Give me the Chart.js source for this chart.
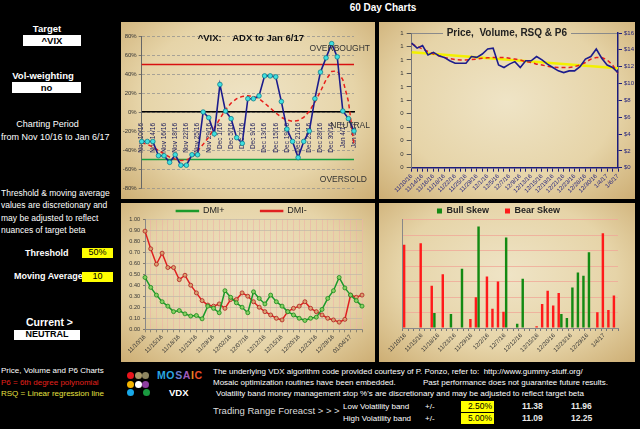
<!DOCTYPE html>
<html>
<head>
<meta charset="utf-8">
<title>60 Day Charts</title>
<script src="https://cdn.jsdelivr.net/npm/chart.js@4.4.1/dist/chart.umd.min.js"></script>
<style>
  html, body { margin: 0; padding: 0; background: #000; }
  body { position: relative; width: 640px; height: 429px; overflow: hidden; font-family: Arial, "Liberation Sans", sans-serif; color: #fff; }
  .t { position: absolute; white-space: nowrap; }
  .b { font-weight: bold; }
  .panel { position: absolute; background: radial-gradient(ellipse at 50% 45%, #efe4c6 0%, #e6d4a8 60%, #cdae74 100%); }
  .box { position: absolute; background: #fff; color: #000; font-weight: bold; text-align: center; }
  .ybox { position: absolute; background: #ffff00; color: #000; }
  .dot { position: absolute; width: 7px; height: 7px; border-radius: 50%; }
</style>
</head>
<body>

<div class="t b" style="left:336px;top:2px;width:94px;text-align:center;font-size:10px;line-height:12px">60 Day Charts</div>

<!-- left column -->
<div class="t b" style="left:17px;top:23px;width:60px;text-align:center;font-size:9.5px;line-height:12px">Target</div>
<div class="box" style="left:23px;top:35px;width:58px;height:11px;font-size:9.5px;line-height:11px">^VIX</div>
<div class="t b" style="left:3px;top:70px;width:80px;text-align:center;font-size:9.5px;line-height:12px">Vol-weighting</div>
<div class="box" style="left:12px;top:82px;width:69px;height:11px;font-size:9.5px;line-height:11px">no</div>
<div class="t" style="left:0;top:118px;width:95px;text-align:center;font-size:9px;line-height:12px">Charting Period</div>
<div class="t" style="left:1px;top:131px;font-size:9px;line-height:12px">from Nov 10/16 to Jan 6/17</div>
<div class="t" style="left:1px;top:187px;font-size:8.5px;line-height:12.3px">Threshold &amp; moving average<br>values are discretionary and<br>may be adjusted to reflect<br>nuances of target beta</div>
<div class="t b" style="left:25px;top:247px;font-size:9px;line-height:12px">Threshold</div>
<div class="ybox" style="left:82px;top:248px;width:31px;height:9.5px;font-size:9px;line-height:9.5px;text-align:center">50%</div>
<div class="t b" style="left:14px;top:270px;font-size:9px;line-height:12px">Moving Average</div>
<div class="ybox" style="left:82px;top:272px;width:31px;height:9.5px;font-size:9px;line-height:9.5px;text-align:center">10</div>
<div class="t b" style="left:26px;top:316px;font-size:10.5px;line-height:13px">Current &gt;</div>
<div class="box" style="left:14px;top:330px;width:66px;height:9.5px;font-size:9px;line-height:9.5px">NEUTRAL</div>
<div class="t" style="left:1px;top:366px;font-size:8px;line-height:10px">Price, Volume and P6 Charts</div>
<div class="t" style="left:1px;top:378px;font-size:8px;line-height:10px;color:#e3201c">P6 = 6th degree polynomial</div>
<div class="t" style="left:1px;top:389px;font-size:8px;line-height:10px;color:#e6e040">RSQ = Linear regression line</div>

<!-- chart panels -->
<div class="panel" style="left:121px;top:22px;width:254px;height:177px"><canvas id="adxChart"></canvas></div>
<div class="panel" style="left:379px;top:22px;width:256px;height:177px"><canvas id="priceChart"></canvas></div>
<div class="panel" style="left:121px;top:203px;width:254px;height:159px"><canvas id="dmiChart"></canvas></div>
<div class="panel" style="left:379px;top:203px;width:256px;height:159px"><canvas id="skewChart"></canvas></div>

<!-- mosaic logo -->
<div class="dot" style="left:127px;top:372px;background:#e8141c"></div>
<div class="dot" style="left:134.5px;top:372px;background:#a89868"></div>
<div class="dot" style="left:142px;top:372px;background:#8c8460"></div>
<div class="dot" style="left:127px;top:380.5px;background:#f4b400"></div>
<div class="dot" style="left:134.5px;top:380.5px;background:#ffffff"></div>
<div class="dot" style="left:142px;top:380.5px;background:#8e3fa0"></div>
<div class="dot" style="left:127px;top:389px;background:#18a8e8"></div>
<div class="dot" style="left:142.5px;top:389px;background:#1a9a40"></div>
<div class="t b" style="left:157px;top:369px;font-size:10.5px;line-height:13px;letter-spacing:0.6px"><span style="color:#2aa8e0">M</span><span style="color:#2aa8e0">O</span><span style="color:#6a7fd0">S</span><span style="color:#a05ab8">A</span><span style="color:#e88a20">I</span><span style="color:#e8502a">C</span></div>
<div class="t b" style="left:169px;top:387px;font-size:9.5px;line-height:12px">VDX</div>

<!-- bottom notes -->
<div class="t" style="left:213px;top:366px;font-size:8px;line-height:11px">The underlying VDX algorithm code provided courtesy of P. Ponzo, refer to:&nbsp; http://www.gummy-stuff.org/</div>
<div class="t" style="left:213px;top:377px;font-size:8px;line-height:11px">Mosaic optimization routines have been embedded.</div>
<div class="t" style="left:423px;top:377px;font-size:8px;line-height:11px">Past performance does not guarantee future results.</div>
<div class="t" style="left:216px;top:388px;font-size:8px;line-height:11px">Volatility band money management stop %'s are discretionary and may be adjusted to reflect target beta</div>
<div class="t" style="left:213px;top:405px;font-size:9.5px;line-height:12px;color:#ddd">Trading Range Foreacst &gt; &gt; &gt;</div>
<div class="t" style="left:343px;top:401px;font-size:8px;line-height:11px">Low Volatility band</div>
<div class="t" style="left:425px;top:401px;font-size:8px;line-height:11px">+/-</div>
<div class="ybox" style="left:461px;top:401px;width:31px;height:11px;font-size:8.5px;line-height:11px;text-align:right;padding-right:2px">2.50%</div>
<div class="t b" style="left:522px;top:401px;font-size:8.5px;line-height:11px;color:#e8e8e8">11.38</div>
<div class="t b" style="left:571px;top:401px;font-size:8.5px;line-height:11px;color:#e8e8e8">11.96</div>
<div class="t" style="left:343px;top:413px;font-size:8px;line-height:11px">High Volatility band</div>
<div class="t" style="left:425px;top:413px;font-size:8px;line-height:11px">+/-</div>
<div class="ybox" style="left:461px;top:413px;width:31px;height:11px;font-size:8.5px;line-height:11px;text-align:right;padding-right:2px">5.00%</div>
<div class="t b" style="left:522px;top:413px;font-size:8.5px;line-height:11px;color:#e8e8e8">11.09</div>
<div class="t b" style="left:571px;top:413px;font-size:8.5px;line-height:11px;color:#e8e8e8">12.25</div>

<script>
// trading days in the 60 day window
const tradeDays = ['11/10/16','11/11/16','11/14/16','11/15/16','11/16/16','11/17/16','11/18/16','11/21/16','11/22/16','11/23/16',
    '11/25/16','11/28/16','11/29/16','11/30/16','12/1/16','12/2/16','12/5/16','12/6/16','12/7/16','12/8/16',
    '12/9/16','12/12/16','12/13/16','12/14/16','12/15/16','12/16/16','12/19/16','12/20/16','12/21/16','12/22/16',
    '12/23/16','12/27/16','12/28/16','12/29/16','12/30/16','1/3/17','1/4/17','1/5/17','1/6/17'];
const monthNames = ['Jan','Feb','Mar','Apr','May','Jun','Jul','Aug','Sep','Oct','Nov','Dec'];

// ADX (%) and its 6th degree polynomial
const adxValues = [-31, -31, -31, -46, -46, -53, -45, -56, -56, -45, -45, 0, -6, -23, 29, 1, -7, -27, -33, 14,
    14, 17, 38, 38, 37, 11, -18, -31, -48, -31, -20, 14, 42, 57, 72, 58, 1, -7, -20];
const adxP6 = [-32.5, -34, -37, -40.5, -44, -47.5, -49.6, -51, -50.7, -47.5, -41, -34, -26.5, -16.8, -7, 2.4, 9.4, 14, 16.4, 17.1,
    16.4, 14, 9.4, 4.2, -1, -5.6, -8.4, -9.8, -9, -5.6, 0.7, 10.5, 21.7, 34, 42.6, 43.3, 34, 11.2, -34];
const threshold = 50;
const adxTicks = [-80, 80, 20];

// price, regression (first/last) and P6
const priceValues = [14.8, 14.2, 14.5, 13.4, 13.7, 13.3, 13.1, 12.7, 12.4, 12.4, 12.4, 13.2, 13.1, 13.5, 14.1, 14.2, 12.2, 11.9, 12.3, 12.6,
    11.9, 12.7, 12.7, 13.2, 12.8, 12.3, 11.9, 11.5, 11.3, 11.5, 11.5, 12.0, 12.9, 13.2, 14.1, 13.0, 12.2, 11.9, 11.3];
const priceP6 = [14.7, 14.4, 14.1, 13.8, 13.5, 13.3, 13.1, 12.95, 12.85, 12.8, 12.8, 12.85, 12.9, 13.0, 13.05, 13.1, 13.1, 13.1, 13.0, 12.9,
    12.8, 12.6, 12.5, 12.3, 12.2, 12.05, 11.95, 11.9, 11.9, 11.9, 12.0, 12.2, 12.5, 12.9, 13.1, 13.1, 12.8, 12.2, 11.2];
const rsqLine = [13.7, 11.8];

// directional movement
const dmiPlus = [0.47, 0.38, 0.31, 0.25, 0.21, 0.16, 0.17, 0.14, 0.12, 0.125, 0.095, 0.21, 0.19, 0.15, 0.35, 0.29, 0.24, 0.20, 0.15, 0.34,
    0.28, 0.23, 0.31, 0.25, 0.21, 0.16, 0.13, 0.10, 0.08, 0.10, 0.11, 0.18, 0.28, 0.35, 0.47, 0.375, 0.31, 0.26, 0.21];
const dmiMinus = [0.89, 0.73, 0.59, 0.69, 0.56, 0.56, 0.45, 0.49, 0.40, 0.33, 0.26, 0.22, 0.21, 0.23, 0.19, 0.27, 0.27, 0.33, 0.30, 0.25,
    0.20, 0.16, 0.13, 0.10, 0.085, 0.16, 0.19, 0.21, 0.25, 0.19, 0.16, 0.13, 0.10, 0.085, 0.065, 0.09, 0.31, 0.29, 0.31];

// skew bars
const bearSkew = [5.38, null, null, 5.48, null, 2.73, null, 3.48, null, null,
    null, null, 0.58, 1.98, null, 3.33, 1.25, 3.01, 1.05, null,
    null, null, null, null, 0.11, 1.55, 2.41, 1.46, 2.26, null,
    null, null, null, null, null, 1.01, 6.13, 1.16, 2.1];
const bullSkew = [null, null, null, null, null, 0.97, null, null, 0.90, null,
    3.83, null, null, 6.56, null, null, null, null, 5.85, null,
    0.28, 3.18, null, null, null, null, null, null, 0.90, 0.65,
    2.62, 3.59, 3.38, 4.90, null, null, null, null, null];

const adxLabels = tradeDays.map(d => {
    const p = d.split('/');
    return monthNames[p[0] - 1] + ' ' + p[1] + '/' + p[2];
});
const dmiLabels = tradeDays.map(d => d.split('/').map(p => p.padStart(2, '0')).join('/'));

const FONT = 'Arial, "Liberation Sans", sans-serif';
const navy = '#1c1c7c';

function everyNth(n) {
    return function (value, index) {
        return index % n === 0 ? this.getLabelForValue(value) : '';
    };
}

// text drawn inside the chart area (titles, zone names)
const overlayText = {
    id: 'overlayText',
    afterDraw(chart, args, opts) {
        const {ctx, chartArea: a, scales} = chart;
        (opts.items || []).forEach(it => {
            ctx.save();
            ctx.font = it.font;
            ctx.textAlign = it.align || 'center';
            ctx.textBaseline = 'middle';
            const x = it.fromRight != null ? a.right + it.fromRight : (a.left + a.right) / 2 + (it.dx || 0);
            const y = it.value != null ? scales.y.getPixelForValue(it.value) : a.top + (it.dy || 0);
            if (it.clear) {
                const w = ctx.measureText(it.text).width;
                ctx.clearRect(x - w / 2 - 4, y - 6, w + 8, 12);
            }
            ctx.fillStyle = it.color || '#222';
            ctx.fillText(it.text, x, y);
            ctx.restore();
        });
    }
};

Chart.defaults.font.family = FONT;
Chart.defaults.animation = false;

// ADX chart
new Chart(document.getElementById('adxChart'), {
    type: 'line',
    data: {
        labels: adxLabels,
        datasets: [{
            data: adxValues,
            borderColor: '#1c1c8c',
            borderWidth: 1.6,
            pointRadius: 2.3,
            pointBackgroundColor: '#3fe0e0',
            pointBorderColor: '#127f8a',
            pointBorderWidth: 0.8,
            tension: 0
        }, {
            data: adxP6,
            borderColor: '#e8201c',
            borderWidth: 1.5,
            borderDash: [4, 3],
            pointRadius: 0
        }, {
            data: [{x: adxLabels[0], y: threshold}, {x: adxLabels[adxLabels.length - 1], y: threshold}],
            borderColor: '#d81010',
            borderWidth: 1.5,
            pointRadius: 0
        }, {
            data: [{x: adxLabels[0], y: -threshold}, {x: adxLabels[adxLabels.length - 1], y: -threshold}],
            borderColor: '#18a040',
            borderWidth: 1.5,
            pointRadius: 0
        }]
    },
    options: {
        responsive: true,
        maintainAspectRatio: false,
        layout: {padding: {left: 2, right: 21, top: 14, bottom: 11}},
        plugins: {
            legend: {display: false},
            tooltip: {enabled: false},
            overlayText: {
                items: [
                    {text: '^VIX:    ADX to Jan 6/17', value: 78, dx: 3, font: 'bold 9.5px ' + FONT, color: '#111'},
                    {text: 'OVERBOUGHT', value: 67, fromRight: 16, align: 'right', font: '8.5px ' + FONT, color: '#333'},
                    {text: 'NEUTRAL', value: -14, fromRight: 16, align: 'right', font: '8.5px ' + FONT, color: '#333'},
                    {text: 'OVERSOLD', value: -71, fromRight: 13, align: 'right', font: '8.5px ' + FONT, color: '#333'}
                ]
            }
        },
        scales: {
            x: {
                position: {y: 0},
                grid: {display: false},
                border: {display: true, color: '#000', width: 1.5},
                ticks: {
                    autoSkip: false, minRotation: 90, maxRotation: 90, padding: 3,
                    font: {size: 6.5}, color: '#1a1a5a',
                    callback: everyNth(2)
                },
                afterFit: s => { s.height = 0; s.paddingLeft = 0; s.paddingRight = 0; }
            },
            y: {
                min: adxTicks[0], max: adxTicks[1],
                ticks: {stepSize: adxTicks[2], font: {size: 6}, color: '#333', padding: 2, callback: v => v + '%'},
                grid: {color: '#8c8c8c', lineWidth: 0.7, tickLength: 3, tickColor: '#555'},
                border: {color: '#666', dash: [3, 2]},
                afterFit: s => { s.width = 18.7; }
            }
        }
    },
    plugins: [overlayText]
});

// price chart
new Chart(document.getElementById('priceChart'), {
    type: 'line',
    data: {
        labels: tradeDays,
        datasets: [{
            data: priceValues,
            yAxisID: 'y1',
            borderColor: '#1c1c8c',
            borderWidth: 1.6,
            pointRadius: 0,
            tension: 0
        }, {
            data: priceP6,
            yAxisID: 'y1',
            borderColor: '#e8201c',
            borderWidth: 1.5,
            borderDash: [4, 3],
            pointRadius: 0
        }, {
            data: [{x: tradeDays[0], y: rsqLine[0]}, {x: tradeDays[tradeDays.length - 1], y: rsqLine[1]}],
            yAxisID: 'y1',
            borderColor: '#f2f000',
            borderWidth: 2.5,
            pointRadius: 0
        }]
    },
    options: {
        responsive: true,
        maintainAspectRatio: false,
        layout: {padding: {left: 0, right: 0, top: 11, bottom: 0}},
        plugins: {
            legend: {display: false},
            tooltip: {enabled: false},
            overlayText: {
                items: [{text: 'Price,  Volume, RSQ & P6', dy: 0, dx: -8, clear: true, font: 'bold 10px ' + FONT, color: '#222'}]
            }
        },
        scales: {
            x: {
                grid: {display: true, drawOnChartArea: false, tickLength: 4, tickColor: navy},
                border: {color: navy, width: 1.5},
                ticks: {
                    autoSkip: false, minRotation: 45, maxRotation: 45, padding: 1,
                    font: {size: 6}, color: navy, callback: everyNth(2)
                },
                afterFit: s => { s.height = 31.3; s.paddingLeft = 0; s.paddingRight = 0; }
            },
            y: {
                position: 'left',
                min: 0, max: 1,
                ticks: {stepSize: 0.1, font: {size: 6}, color: '#333', padding: 3, callback: v => v.toFixed(0)},
                grid: {
                    color: c => (c.tick && Math.abs(c.tick.value - 1) < 1e-9) ? '#8a8a8a' : 'rgba(0,0,0,0)',
                    tickColor: '#555', tickLength: 5
                },
                border: {color: '#777'},
                afterFit: s => { s.width = 32.7; }
            },
            y1: {
                position: 'right',
                min: 0, max: 16,
                ticks: {stepSize: 2, font: {size: 6}, color: navy, padding: 2, callback: v => '$' + v},
                grid: {drawOnChartArea: false, tickColor: navy, tickLength: 4},
                border: {color: navy, width: 1.5},
                afterFit: s => { s.width = 17; }
            }
        }
    },
    plugins: [overlayText]
});

// DMI chart
new Chart(document.getElementById('dmiChart'), {
    type: 'line',
    data: {
        labels: dmiLabels,
        datasets: [{
            label: 'DMI+',
            data: dmiPlus,
            borderColor: '#1a9a2a',
            backgroundColor: '#1a9a2a',
            borderWidth: 1.5,
            pointRadius: 2,
            pointBackgroundColor: '#86cf62',
            pointBorderColor: '#1a8a1a',
            pointBorderWidth: 0.8,
            tension: 0
        }, {
            label: 'DMI-',
            data: dmiMinus,
            borderColor: '#e02020',
            backgroundColor: '#e02020',
            borderWidth: 1.5,
            pointRadius: 2,
            pointBackgroundColor: '#d9a070',
            pointBorderColor: '#b02020',
            pointBorderWidth: 0.8,
            tension: 0
        }]
    },
    options: {
        responsive: true,
        maintainAspectRatio: false,
        layout: {padding: {left: 0, right: 13, top: -32.5, bottom: 0}},
        plugins: {
            tooltip: {enabled: false},
            legend: {
                display: true,
                position: 'top',
                maxHeight: 48.5,
                labels: {boxWidth: 22, boxHeight: 1, padding: 36, color: '#222', font: {size: 9}}
            }
        },
        scales: {
            x: {
                grid: {color: '#efb2a6', lineWidth: 0.6, tickColor: '#555', tickLength: 3},
                border: {color: '#888'},
                ticks: {
                    autoSkip: false, minRotation: 45, maxRotation: 45, padding: 1,
                    font: {size: 6}, color: '#333', callback: everyNth(3)
                },
                afterFit: s => { s.height = 32.7; s.paddingLeft = 0; s.paddingRight = 0; }
            },
            y: {
                min: 0, max: 1,
                ticks: {stepSize: 0.1, font: {size: 5.5}, color: '#333', padding: 3, callback: v => v.toFixed(2)},
                grid: {color: '#c0b8a8', lineWidth: 0.7, tickLength: 2, tickColor: '#555'},
                border: {color: '#888'},
                afterFit: s => { s.width = 24; }
            }
        }
    }
});

// skew chart
new Chart(document.getElementById('skewChart'), {
    type: 'bar',
    data: {
        labels: tradeDays,
        datasets: [{
            label: 'Bear Skew',
            data: bearSkew,
            backgroundColor: '#ff1a1a',
            categoryPercentage: 0.96,
            barPercentage: 0.92
        }, {
            label: 'Bull Skew',
            data: bullSkew,
            backgroundColor: '#138a13',
            categoryPercentage: 0.96,
            barPercentage: 0.92
        }]
    },
    options: {
        responsive: true,
        maintainAspectRatio: false,
        layout: {padding: {left: 0, right: 17, top: -12.5, bottom: 0}},
        plugins: {
            tooltip: {enabled: false},
            legend: {
                display: true,
                position: 'top',
                reverse: true,
                maxHeight: 29.2,
                labels: {boxWidth: 5, boxHeight: 5, padding: 16, color: '#222', font: {size: 9, weight: 'bold'}}
            }
        },
        scales: {
            x: {
                grid: {display: true, drawOnChartArea: false, tickColor: '#777', tickLength: 3},
                border: {color: '#888'},
                ticks: {
                    autoSkip: false, minRotation: 45, maxRotation: 45, padding: 1,
                    font: {size: 6}, color: '#333', callback: everyNth(3)
                },
                afterFit: s => { s.height = 34; s.paddingLeft = 0; s.paddingRight = 0; }
            },
            y: {
                min: 0, max: 7,
                ticks: {display: false, stepSize: 1},
                grid: {color: '#f0a898', lineWidth: 0.8, drawTicks: false},
                border: {color: '#888'},
                afterFit: s => { s.width = 23.7; }
            }
        }
    }
});
</script>
</body>
</html>
